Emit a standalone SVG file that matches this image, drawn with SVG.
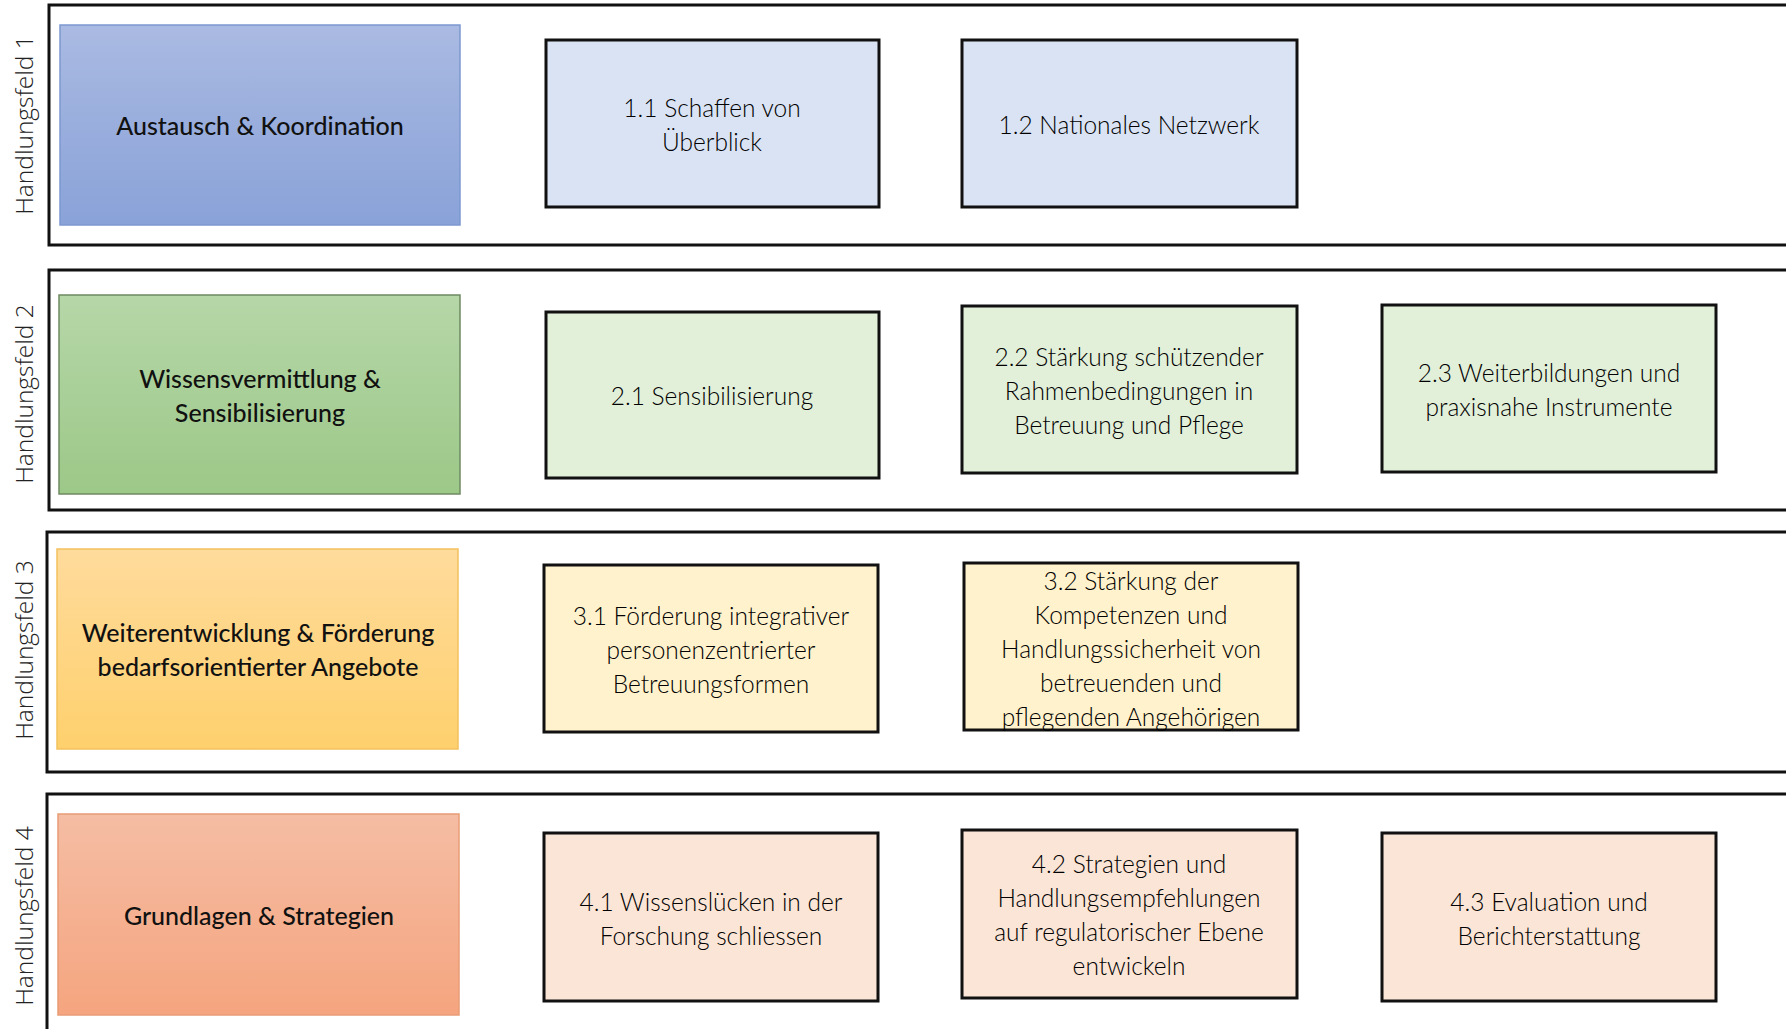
<svg xmlns="http://www.w3.org/2000/svg" width="1786" height="1029" viewBox="0 0 1786 1029">
<style>
.band{fill:#fff;stroke:#111;stroke-width:3}
.lbl{font-family:"Open Sans",sans-serif;font-size:24.5px;font-weight:300;fill:#222;text-anchor:middle;dominant-baseline:central}
.main{font-family:Lato,"Liberation Sans",sans-serif;font-size:25px;fill:#111;text-anchor:middle;dominant-baseline:central;font-weight:500}
.sub{font-family:Lato,"Liberation Sans",sans-serif;font-size:24.5px;font-weight:300;fill:#000;text-anchor:middle;dominant-baseline:central}
.sb{stroke:#111;stroke-width:3}
.s1{fill:#DAE3F3}.s2{fill:#E2EFD9}.s3{fill:#FFF2CC}.s4{fill:#FBE5D6}
</style>
<defs>
<linearGradient id="g1" x1="0" y1="0" x2="0" y2="1"><stop offset="0" stop-color="#AABAE2"/><stop offset="1" stop-color="#89A2D8"/></linearGradient>
<linearGradient id="g2" x1="0" y1="0" x2="0" y2="1"><stop offset="0" stop-color="#B6D7A8"/><stop offset="1" stop-color="#9CC888"/></linearGradient>
<linearGradient id="g3" x1="0" y1="0" x2="0" y2="1"><stop offset="0" stop-color="#FFDB9C"/><stop offset="1" stop-color="#FED06D"/></linearGradient>
<linearGradient id="g4" x1="0" y1="0" x2="0" y2="1"><stop offset="0" stop-color="#F5BDA4"/><stop offset="1" stop-color="#F5A57F"/></linearGradient>
</defs>

<g id="connectors"></g>

<g id="band1">
<rect class="band" x="49" y="5" width="1800" height="240"/>
<text class="lbl" transform="translate(23,125) rotate(-90)">Handlungsfeld 1</text>
</g>
<g id="band2">
<rect class="band" x="49" y="270" width="1800" height="240"/>
<text class="lbl" transform="translate(23,394) rotate(-90)">Handlungsfeld 2</text>
</g>
<g id="band3">
<rect class="band" x="47" y="532" width="1800" height="240"/>
<text class="lbl" transform="translate(23,650) rotate(-90)">Handlungsfeld 3</text>
</g>
<g id="band4">
<rect class="band" x="47" y="794" width="1800" height="300"/>
<text class="lbl" transform="translate(23,916) rotate(-90)">Handlungsfeld 4</text>
</g>

<g id="main1">
<rect x="60" y="25" width="400" height="200" fill="url(#g1)" stroke="#7C98CF" stroke-width="1.5"/>
<text class="main" x="260" y="125">Austausch &amp; Koordination</text>
</g>
<g id="main2">
<rect x="59" y="295" width="401" height="199" fill="url(#g2)" stroke="#6E8A62" stroke-width="1.5"/>
<text class="main" x="260" y="378">Wissensvermittlung &amp;</text>
<text class="main" x="260" y="412">Sensibilisierung</text>
</g>
<g id="main3">
<rect x="57" y="549" width="401" height="200" fill="url(#g3)" stroke="#F3C25E" stroke-width="1.5"/>
<text class="main" x="258" y="632">Weiterentwicklung &amp; Förderung</text>
<text class="main" x="258" y="666">bedarfsorientierter Angebote</text>
</g>
<g id="main4">
<rect x="58" y="814" width="401" height="201" fill="url(#g4)" stroke="#E89C76" stroke-width="1.5"/>
<text class="main" x="259" y="915">Grundlagen &amp; Strategien</text>
</g>

<g id="n11"><rect class="sb s1" x="546" y="40" width="333" height="167"/>
<text class="sub" x="712" y="107">1.1 Schaffen von</text><text class="sub" x="712" y="141">Überblick</text></g>
<g id="n12"><rect class="sb s1" x="962" y="40" width="335" height="167"/>
<text class="sub" x="1129" y="124">1.2 Nationales Netzwerk</text></g>

<g id="n21"><rect class="sb s2" x="546" y="312" width="333" height="166"/>
<text class="sub" x="712" y="395">2.1 Sensibilisierung</text></g>
<g id="n22"><rect class="sb s2" x="962" y="306" width="335" height="167"/>
<text class="sub" x="1129" y="356">2.2 Stärkung schützender</text><text class="sub" x="1129" y="390">Rahmenbedingungen in</text><text class="sub" x="1129" y="424">Betreuung und Pflege</text></g>
<g id="n23"><rect class="sb s2" x="1382" y="305" width="334" height="167"/>
<text class="sub" x="1549" y="372">2.3 Weiterbildungen und</text><text class="sub" x="1549" y="406">praxisnahe Instrumente</text></g>

<g id="n31"><rect class="sb s3" x="544" y="565" width="334" height="167"/>
<text class="sub" x="711" y="615">3.1 Förderung integrativer</text><text class="sub" x="711" y="649">personenzentrierter</text><text class="sub" x="711" y="683">Betreuungsformen</text></g>
<g id="n32"><rect class="sb s3" x="964" y="563" width="334" height="167"/>
<text class="sub" x="1131" y="580">3.2 Stärkung der</text><text class="sub" x="1131" y="614">Kompetenzen und</text><text class="sub" x="1131" y="648">Handlungssicherheit von</text><text class="sub" x="1131" y="682">betreuenden und</text><text class="sub" x="1131" y="716">pflegenden Angehörigen</text></g>

<g id="n41"><rect class="sb s4" x="544" y="833" width="334" height="168"/>
<text class="sub" x="711" y="901">4.1 Wissenslücken in der</text><text class="sub" x="711" y="935">Forschung schliessen</text></g>
<g id="n42"><rect class="sb s4" x="962" y="830" width="335" height="168"/>
<text class="sub" x="1129" y="863">4.2 Strategien und</text><text class="sub" x="1129" y="897">Handlungsempfehlungen</text><text class="sub" x="1129" y="931">auf regulatorischer Ebene</text><text class="sub" x="1129" y="965">entwickeln</text></g>
<g id="n43"><rect class="sb s4" x="1382" y="833" width="334" height="168"/>
<text class="sub" x="1549" y="901">4.3 Evaluation und</text><text class="sub" x="1549" y="935">Berichterstattung</text></g>
</svg>
